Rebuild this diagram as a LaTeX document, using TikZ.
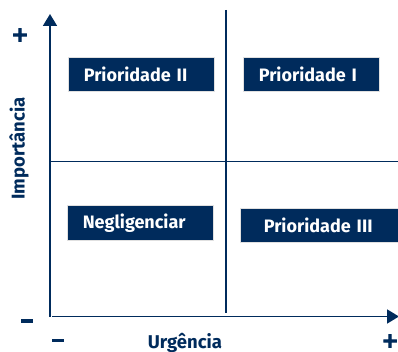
\documentclass[tikz,border=0pt]{standalone}
\usepackage{fontspec}
\setmainfont{Fira Sans}
\newfontfamily\signfont[BoldFeatures={FakeBold=5}]{DejaVu Sans}
\usetikzlibrary{arrows.meta}
\definecolor{navy}{RGB}{0,43,92}
\begin{document}
\begin{tikzpicture}[x=1pt,y=-1pt,
  axis/.style={draw=navy,line width=1.8pt},
  quad/.style={fill=navy,draw=black!12,line width=0.6pt,text=white,font=\bfseries\fontsize{18}{20}\selectfont,inner ysep=0pt,inner xsep=15.5pt,anchor=north west,align=left},
  lbl/.style={text=navy,font=\bfseries\fontsize{18.5}{20}\selectfont,inner sep=0pt,anchor=base},
  sign/.style={text=navy,font=\signfont\bfseries\fontsize{20}{20}\selectfont,inner sep=0pt}]
\useasboundingbox (0,0) rectangle (398,352);
\coordinate (o) at (50,316.5);
\coordinate (ytop) at (50,14);
\coordinate (xo) at (52,316.5);
\coordinate (xend) at (399,316.5);
\coordinate (hl) at (50,161.5);
\coordinate (hr) at (399,161.5);
\coordinate (vt) at (225.7,10);
\coordinate (vb) at (225.7,313);
\draw[axis] (hl) -- (hr);
\draw[axis] (vt) -- (vb);
\draw[axis,-{Triangle[width=14pt,length=12pt]}] (o) -- (ytop);
\draw[axis,-{Triangle[width=14pt,length=12pt]}] (xo) -- (xend);
\node[quad,text width=115pt,minimum height=34pt] (p2) at (68,57) {Prioridade II};
\node[quad,text width=105pt,minimum height=34pt] (p1) at (243,57) {Prioridade I};
\node[quad,text width=115pt,minimum height=35pt] (ng) at (67,205.5) {Negligenciar};
\node[quad,text width=113pt,minimum height=34pt,inner xsep=23.5pt] (p3) at (240,208) {Prioridade III};
\node[lbl,rotate=90] (imp) at (24.5,148.5) {Importância};
\node[lbl] (urg) at (185,348) {Urgência};
\node[sign] (yp) at (20,35) {+};
\node[sign] (ym) at (27,321) {\rule{12pt}{3.5pt}};
\node[sign] (xm) at (58,340.7) {\rule{12pt}{3.5pt}};
\node[sign] (xp) at (390,341) {+};
\end{tikzpicture}
\end{document}
